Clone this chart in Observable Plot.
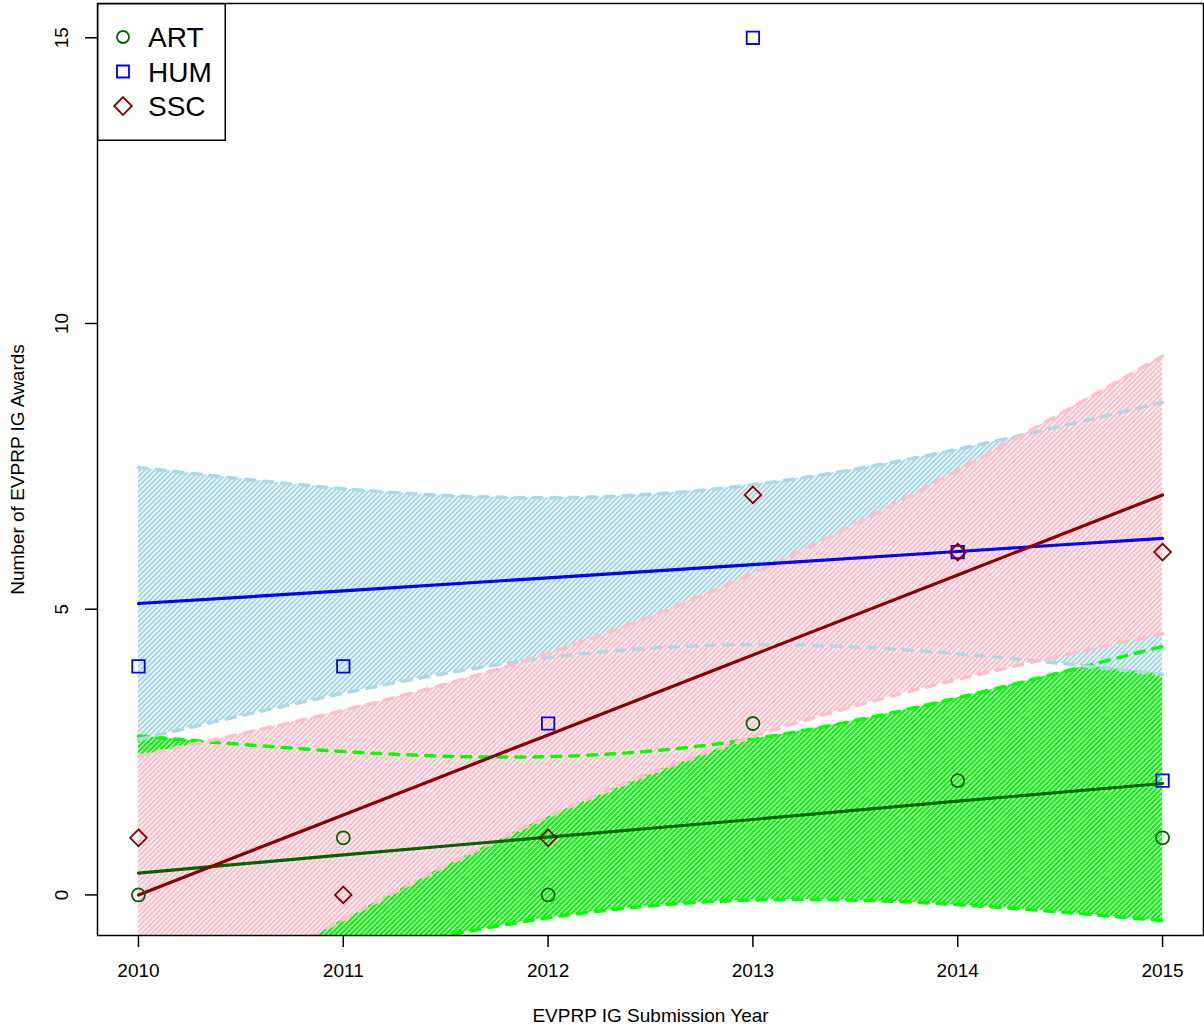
<!DOCTYPE html>
<html><head><meta charset="utf-8">
<script src="https://cdn.jsdelivr.net/npm/d3@7"></script>
<script src="https://cdn.jsdelivr.net/npm/@observablehq/plot@0.6"></script>
<style>
html,body{margin:0;padding:0;background:#fff;}
#wrap{position:relative;width:1204px;height:1025px;font-family:"Liberation Sans",Arial,sans-serif;}
#legend{position:absolute;left:97px;top:3px;}
</style></head><body><div id="wrap"></div>
<script>
// ---- data ----
const years = [2010, 2011, 2012, 2013, 2014, 2015];
const artCounts = [0, 1, 0, 3, 2, 1];
const humCounts = [4, 4, 3, 15, 6, 2];
const sscCounts = [1, 0, 1, 7, 6, 6];

const artFit   = [0.38, 0.70, 1.01, 1.32, 1.64, 1.95];
const artLower = [-2.02, -1.11, -0.40, -0.09, -0.17, -0.45];
const artUpper = [2.78, 2.51, 2.42, 2.73, 3.45, 4.35];

const humFit   = [5.10, 5.32, 5.55, 5.78, 6.01, 6.24];
const humLower = [2.72, 3.53, 4.15, 4.38, 4.22, 3.86];
const humUpper = [7.48, 7.11, 6.95, 7.18, 7.80, 8.62];

const sscFit   = [0.00, 1.40, 2.80, 4.20, 5.60, 7.00];
const sscLower = [-2.43, -0.43, 1.37, 2.77, 3.77, 4.57];
const sscUpper = [2.43, 3.23, 4.23, 5.63, 7.43, 9.43];

const xTicks = [2010, 2011, 2012, 2013, 2014, 2015];
const yTicks = [0, 5, 10, 15];
const seriesNames = ["ART", "HUM", "SSC"];
const xTitle = "EVPRP IG Submission Year";
const yTitle = "Number of EVPRP IG Awards";

// ---- styles ----
const series = [
  {name: "ART", counts: artCounts, fit: artFit, lo: artLower, hi: artUpper,
   point: "#006400", line: "#006400", band: "#00FF00", symbol: "circle", r: 6.5, id: "hatch-art"},
  {name: "HUM", counts: humCounts, fit: humFit, lo: humLower, hi: humUpper,
   point: "#0000FF", line: "#0000FF", band: "#ADD8E6", symbol: "square", r: 7, id: "hatch-hum"},
  {name: "SSC", counts: sscCounts, fit: sscFit, lo: sscLower, hi: sscUpper,
   point: "#8B0000", line: "#8B0000", band: "#FFC0CB", symbol: "diamond2", r: 7.5, id: "hatch-ssc"}
];
series.forEach(s => {
  s.rows = years.map((yr, i) => ({year: yr, count: s.counts[i], fit: s.fit[i], lo: s.lo[i], hi: s.hi[i]}));
});

const marks = [];
// hatched bands (drawn in order ART, HUM, SSC)
series.forEach(s => marks.push(Plot.areaY(s.rows, {x: "year", y1: "lo", y2: "hi", fill: `url(#${s.id})`, curve: "natural", clip: true})));
// dashed band boundaries
series.forEach(s => {
  ["lo", "hi"].forEach(k => marks.push(Plot.line(s.rows, {x: "year", y: k, stroke: s.band, strokeWidth: 3.5, strokeDasharray: "9,9", strokeLinecap: "round", curve: "natural", clip: true})));
});
// fit lines
series.forEach(s => marks.push(Plot.line(s.rows, {x: "year", y: "fit", stroke: s.line, strokeWidth: 3.2, clip: true})));
// points
series.forEach(s => marks.push(Plot.dot(s.rows, {x: "year", y: "count", symbol: s.symbol, r: s.r, stroke: s.point, strokeWidth: 1.8, fill: "none"})));

// axes
marks.push(Plot.axisX({ticks: xTicks, tickSize: 12, tickFormat: () => "", strokeWidth: 1.5, label: null}));
marks.push(Plot.axisY({ticks: yTicks, tickSize: 12, tickFormat: () => "", strokeWidth: 1.5, label: null}));
marks.push(Plot.text(xTicks, {x: d => d, text: d => String(d), frameAnchor: "bottom", dy: 35, lineAnchor: "middle", textAnchor: "middle", fontSize: 19, fill: "black"}));
marks.push(Plot.text(yTicks, {y: d => d, text: d => String(d), frameAnchor: "left", dx: -36, rotate: -90, lineAnchor: "middle", textAnchor: "middle", fontSize: 19, fill: "black"}));
marks.push(Plot.text([xTitle], {frameAnchor: "bottom", dy: 80, lineAnchor: "middle", textAnchor: "middle", fontSize: 19, fill: "black"}));
marks.push(Plot.text([yTitle], {frameAnchor: "left", dx: -80, rotate: -90, lineAnchor: "middle", textAnchor: "middle", fontSize: 19, fill: "black"}));
marks.push(Plot.frame({stroke: "black", strokeWidth: 1.5}));

const svg = Plot.plot({
  width: 1204, height: 1025,
  marginTop: 3, marginRight: 1, marginBottom: 90, marginLeft: 97,
  x: {domain: [2009.8, 2015.2]},
  y: {domain: [-0.71, 15.6]},
  style: {fontFamily: '"Liberation Sans", Arial, sans-serif', background: "white", overflow: "visible"},
  marks
});

// hatch patterns
const pat = s => `<pattern id="${s.id}" patternUnits="userSpaceOnUse" width="5" height="5">
  <rect width="5" height="5" fill="white"/>
  <path d="M-1,1 L1,-1 M0,5 L5,0 M4,6 L6,4" stroke="${s.band}" stroke-width="2.3"/>
</pattern>`;
svg.insertAdjacentHTML("afterbegin", `<defs>${series.map(pat).join("")}</defs>`);

const wrap = document.getElementById("wrap");
wrap.appendChild(svg);

// legend
const lg = d3.select(wrap).append("svg").attr("id", "legend").attr("width", 129).attr("height", 138);
lg.append("rect").attr("x", 0.75).attr("y", 0.75).attr("width", 127.5).attr("height", 136.5)
  .attr("fill", "white").attr("stroke", "black").attr("stroke-width", 1.5);
const symMap = {circle: d3.symbolCircle, square: d3.symbolSquare, diamond2: d3.symbolDiamond2};
const legendSizes = {circle: Math.PI * 36, square: 144, diamond2: 200};
series.forEach((s, i) => {
  const cy = 34 + i * 34.5;
  lg.append("path").attr("d", d3.symbol(symMap[s.symbol], legendSizes[s.symbol])())
    .attr("transform", `translate(26,${cy})`).attr("fill", "none").attr("stroke", s.point).attr("stroke-width", 1.8);
  lg.append("text").attr("x", 51).attr("y", cy).attr("dy", "0.36em")
    .attr("font-size", 28).attr("font-family", '"Liberation Sans", Arial, sans-serif').text(seriesNames[i]);
});
</script></body></html>
